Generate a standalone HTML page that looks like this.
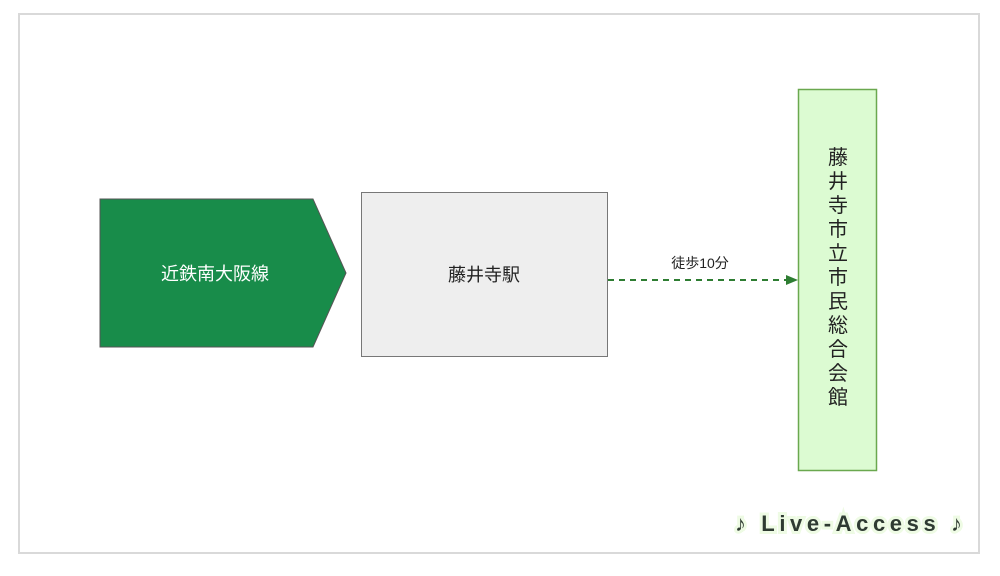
<!DOCTYPE html>
<html><head><meta charset="utf-8"><style>
html,body{margin:0;padding:0;background:#fff;}
svg{display:block;}
text{font-family:"Liberation Sans","Noto Sans CJK JP",sans-serif;}
</style></head><body>
<svg width="1000" height="576" viewBox="0 0 1000 576" xmlns="http://www.w3.org/2000/svg">
<rect x="0" y="0" width="1000" height="576" fill="#fff"/>
<rect x="19" y="14" width="960" height="539" fill="#fff" stroke="#d9d9d9" stroke-width="2"/>
<polygon points="100,199 313,199 346,273 313,347 100,347" fill="#188c4a" stroke="#555" stroke-width="1"/>
<text x="215" y="280" font-size="18" fill="#fff" text-anchor="middle">近鉄南大阪線</text>
<rect x="361.5" y="192.5" width="246" height="164" fill="#eeeeee" stroke="#777" stroke-width="1"/>
<text x="484" y="281" font-size="18" fill="#222" text-anchor="middle">藤井寺駅</text>
<line x1="608" y1="280" x2="788" y2="280" stroke="#2e7d32" stroke-width="2" stroke-dasharray="6,5"/>
<polygon points="786,275 798,280 786,285" fill="#2e7d32"/>
<text x="700" y="268" font-size="14" fill="#222" text-anchor="middle">徒歩10分</text>
<rect x="798.5" y="89.5" width="78" height="381" fill="#dcfbd2" stroke="#6aa84f" stroke-width="1.5"/>
<g font-size="20" fill="#222" text-anchor="middle">
<text x="838" y="164">藤</text><text x="838" y="188">井</text><text x="838" y="212">寺</text>
<text x="838" y="236">市</text><text x="838" y="260">立</text><text x="838" y="284">市</text>
<text x="838" y="308">民</text><text x="838" y="332">総</text><text x="838" y="356">合</text>
<text x="838" y="380">会</text><text x="838" y="404">館</text>
</g>
<text x="735" y="531" font-size="22" font-weight="bold" fill="#f0fbe8" stroke="#eefbe4" stroke-width="6" textLength="227" lengthAdjust="spacing">♪ Live-Access ♪</text>
<text x="735" y="531" font-size="22" font-weight="bold" fill="#2f3b32" textLength="227" lengthAdjust="spacing">♪ Live-Access ♪</text>
</svg>
</body></html>
